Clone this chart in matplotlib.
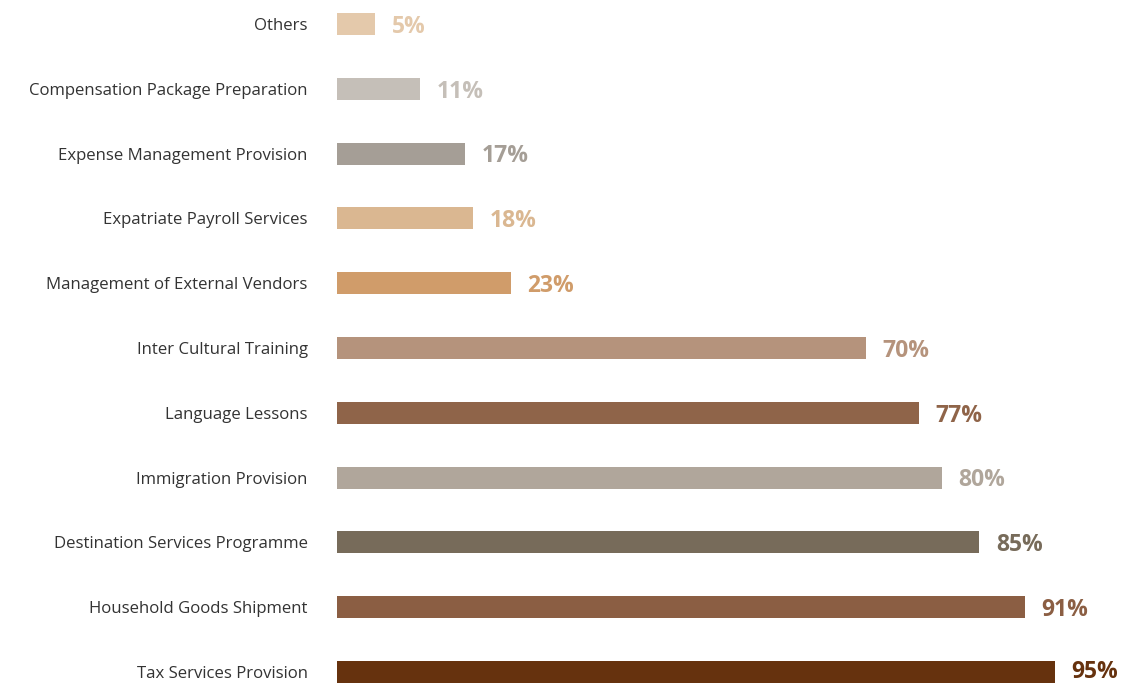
"""Horizontal bar chart of assignment services offered, share of respondents."""

import matplotlib

matplotlib.use("Agg")
import matplotlib.pyplot as plt

# bottom to top
services = [
    "Tax Services Provision",
    "Household Goods Shipment",
    "Destination Services Programme",
    "Immigration Provision",
    "Language Lessons",
    "Inter Cultural Training",
    "Management of External Vendors",
    "Expatriate Payroll Services",
    "Expense Management Provision",
    "Compensation Package Preparation",
    "Others",
]
shares = [95, 91, 85, 80, 77, 70, 23, 18, 17, 11, 5]
colors = [
    "#66320e", "#8b5e43", "#776b5a", "#b0a69b", "#8f6449", "#b5937c",
    "#d09c6a", "#dab791", "#a59e96", "#c5bfb8", "#e4c9ab",
]

plt.rcParams["font.family"] = ["Open Sans", "DejaVu Sans"]

fig = plt.figure(figsize=(11.26, 6.84), dpi=100)
ax = fig.add_axes([337 / 1126, 0, 1 - 337 / 1126, 1])

y = list(range(len(services)))
ax.barh(y, shares, height=0.34, color=colors, left=0)

for yi, v, c in zip(y, shares, colors):
    # bottom label sits against the edge, so keep it a touch higher
    dy = 0 if yi == 0 else -2
    ax.annotate(f"{v}%", (v, yi), xytext=(12, dy), textcoords="offset points",
                va="center", ha="left", fontsize=16.5, fontweight="bold", color=c)

ax.set_xlim(0, 104.4)
ax.set_ylim(-0.185, 10.37)
ax.set_yticks(y)
ax.set_yticklabels(services, fontsize=12.1, color="#333333")
ax.tick_params(axis="y", length=0, pad=21)
ax.set_xticks([])
for s in ax.spines.values():
    s.set_visible(False)

fig.savefig("out.png", dpi=100)
